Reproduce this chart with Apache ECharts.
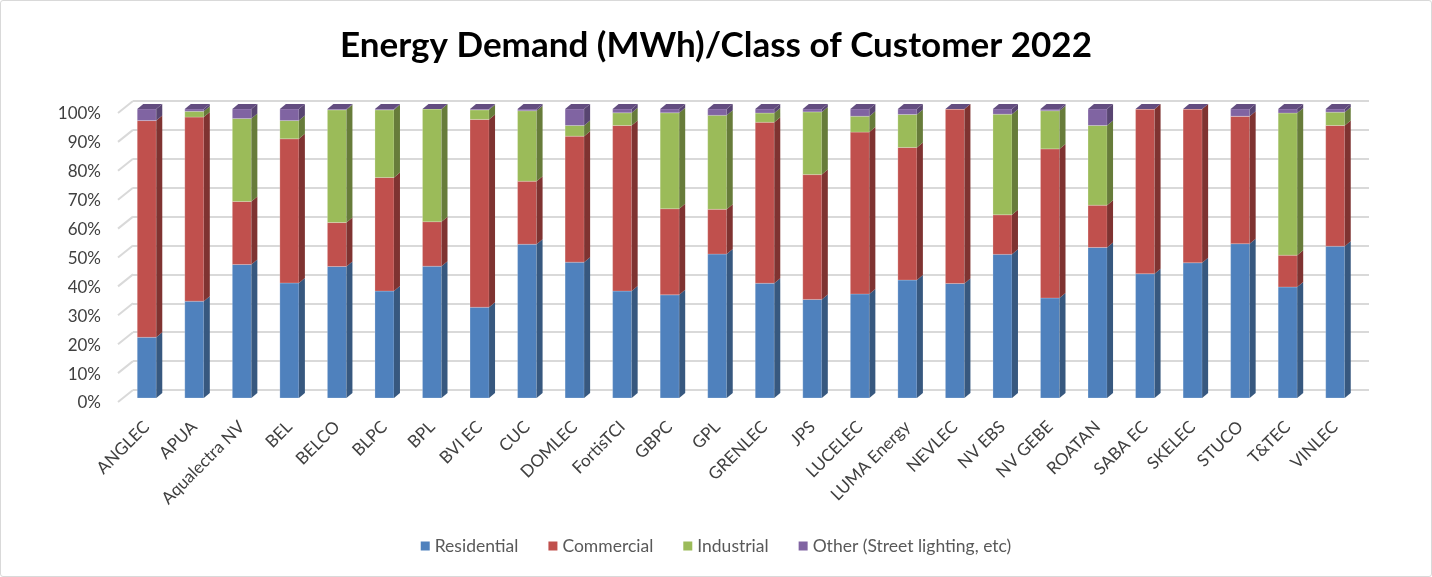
<!DOCTYPE html>
<html>
<head>
<meta charset="utf-8">
<script src="https://cdn.jsdelivr.net/npm/echarts@6/dist/echarts.min.js"></script>
<style>
  html, body { margin: 0; padding: 0; background: #fff; }
  #chart { width: 1430px; height: 575px; border: 1px solid #d9d9d9; border-radius: 3px; }
</style>
</head>
<body>
<div id="chart"></div>
<script>
// shares, percent of each utility's demand
const categories = ['ANGLEC', 'APUA', 'Aqualectra NV', 'BEL', 'BELCO', 'BLPC', 'BPL', 'BVI EC', 'CUC', 'DOMLEC',
  'FortisTCI', 'GBPC', 'GPL', 'GRENLEC', 'JPS', 'LUCELEC', 'LUMA Energy', 'NEVLEC', 'NV EBS', 'NV GEBE',
  'ROATAN', 'SABA EC', 'SKELEC', 'STUCO', 'T&TEC', 'VINLEC']
const residential = [21, 33.5, 46.2, 39.8, 45.5, 37, 45.6, 31.4, 53.2, 47, 37, 35.7, 49.8, 39.7, 34.1, 36, 40.8, 39.6, 49.7, 34.6, 52.1, 43, 46.8, 53.4, 38.4, 52.5]
const commercial = [75, 63.7, 21.8, 49.9, 15.2, 39.3, 15.4, 65, 21.8, 43.6, 57.3, 29.8, 15.5, 55.7, 43.2, 56, 45.9, 60.4, 13.7, 51.6, 14.6, 57, 53.2, 44.1, 11, 41.8]
const industrial = [0, 2, 28.7, 6.3, 39, 23.4, 39, 3.3, 24.4, 3.7, 4.4, 33.2, 32.5, 3.2, 21.7, 5.5, 11.4, 0, 34.8, 13.2, 27.6, 0, 0, 0, 49.2, 4.6]
const other = [4, 0.8, 3.3, 4, 0.3, 0.3, 0, 0.3, 0.6, 5.7, 1.3, 1.3, 2.2, 1.4, 1, 2.5, 1.9, 0, 1.8, 0.6, 5.7, 0, 0, 2.5, 1.4, 1.1]
const yTicks = [0, 0.1, 0.2, 0.3, 0.4, 0.5, 0.6, 0.7, 0.8, 0.9, 1]

const classes = [
  { name: 'Residential', values: residential, front: '#4F81BD', side: '#37587f', top: '#3f6797' },
  { name: 'Commercial', values: commercial, front: '#C0504D', side: '#7f3331', top: '#9a3f3d' },
  { name: 'Industrial', values: industrial, front: '#9BBB59', side: '#677c3a', top: '#7c9646' },
  { name: 'Other (Street lighting, etc)', values: other, front: '#8064A2', side: '#584571', top: '#634d80' }
]

const chart = echarts.init(document.getElementById('chart'))

// 100% stacking: running start/end share for each segment
const totals = categories.map((c, i) => classes.reduce((s, k) => s + k.values[i], 0))
const starts = categories.map(() => 0)
const DX = 6, DY = 5

const series = classes.map((k, ci) => {
  const data = categories.map((c, i) => {
    const a = starts[i]
    const b = a + k.values[i] / totals[i]
    starts[i] = b
    return [i, a, b]
  })
  const isTop = ci === classes.length - 1
  return {
    name: k.name,
    type: 'custom',
    xAxisIndex: 0,
    yAxisIndex: 0,
    itemStyle: { color: k.front },
    encode: { x: 0, y: [1, 2] },
    data,
    renderItem: (params, api) => {
      const p0 = api.coord([api.value(0), api.value(1)])
      const p1 = api.coord([api.value(0), api.value(2)])
      const bw = api.size([1, 0])[0] * 0.4
      const l = p0[0] - bw / 2
      const r = p0[0] + bw / 2
      const children = [
        { type: 'rect', shape: { x: l, y: p1[1], width: bw, height: p0[1] - p1[1] },
          style: { fill: k.front, stroke: 'rgba(255,255,255,0.35)', lineWidth: 0.6 } },
        { type: 'polygon', shape: { points: [[r, p0[1]], [r + DX, p0[1] - DY], [r + DX, p1[1] - DY], [r, p1[1]]] },
          style: { fill: k.side } }
      ]
      if (isTop) {
        children.push({ type: 'polygon', shape: { points: [[l, p1[1]], [l + DX, p1[1] - DY], [r + DX, p1[1] - DY], [r, p1[1]]] },
          style: { fill: k.top } })
      }
      return { type: 'group', children }
    }
  }
})

// short diagonals of the left wall, from the back wall to the front edge
series.push({
  type: 'custom',
  xAxisIndex: 1,
  yAxisIndex: 1,
  silent: true,
  data: yTicks.map(t => [0, t]),
  encode: { y: 1 },
  renderItem: (params, api) => {
    const p = api.coord([0, api.value(1)])
    const x0 = params.coordSys.x
    return { type: 'line', shape: { x1: x0 - 15, y1: p[1] + 12, x2: x0, y2: p[1] },
      style: { stroke: '#d9d9d9', lineWidth: 2 } }
  }
})

const option = {
  animation: false,
  title: {
    text: 'Energy Demand (MWh)/Class of Customer 2022',
    left: 'center',
    top: 22,
    textStyle: { fontFamily: 'Lato', fontWeight: 'bold', fontSize: 35, color: '#000' }
  },
  legend: {
    bottom: 16,
    left: 'center',
    icon: 'rect',
    itemWidth: 9,
    itemHeight: 9,
    itemGap: 30,
    textStyle: { fontFamily: 'Lato', fontSize: 17.5, color: '#595959' },
    data: classes.map(k => ({ name: k.name, itemStyle: { color: k.front } }))
  },
  grid: [
    { left: 122, right: 72, top: 108, bottom: 178 },
    // back wall, shifted by the depth of the 3D box
    { left: 132, right: 62, top: 100, bottom: 186 }
  ],
  xAxis: [
    {
      type: 'category', gridIndex: 0, data: categories,
      axisLine: { show: false }, axisTick: { show: false },
      axisLabel: { rotate: 45, interval: 0, margin: 26, fontFamily: 'Lato', fontSize: 17, color: '#404040' }
    },
    { type: 'category', gridIndex: 1, data: categories, show: false }
  ],
  yAxis: [
    {
      type: 'value', gridIndex: 0, min: 0, max: 1, interval: 0.1,
      splitLine: { show: false }, axisLine: { show: false }, axisTick: { show: false },
      axisLabel: {
        margin: 22, verticalAlign: 'top', lineHeight: 10, fontFamily: 'Lato', fontSize: 17, color: '#404040',
        formatter: v => yTicks.some(t => Math.abs(t - v) < 1e-9) ? Math.round(v * 100) + '%' : ''
      }
    },
    {
      type: 'value', gridIndex: 1, min: 0, max: 1, interval: 0.1,
      axisLine: { show: false }, axisTick: { show: false }, axisLabel: { show: false },
      splitLine: { show: true, lineStyle: { color: '#d9d9d9', width: 2 } }
    }
  ],
  series
}

chart.setOption(option)
</script>
</body>
</html>
